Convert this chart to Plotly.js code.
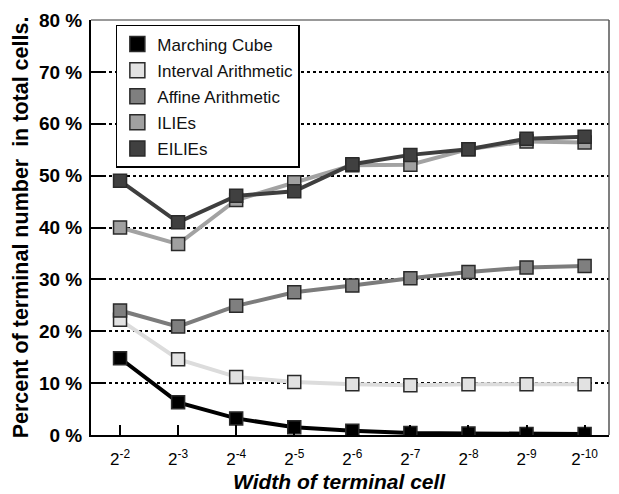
<!DOCTYPE html>
<html><head><meta charset="utf-8">
<script src="https://cdn.plot.ly/plotly-3.0.1.min.js"></script>
<style>body{margin:0;background:#fff}#c{width:619px;height:494px}</style>
</head><body><div id="c"></div>
<script>
const categories = ["2<sup>-2</sup>","2<sup>-3</sup>","2<sup>-4</sup>","2<sup>-5</sup>","2<sup>-6</sup>","2<sup>-7</sup>","2<sup>-8</sup>","2<sup>-9</sup>","2<sup>-10</sup>"];
const marchingCube = [14.8, 6.3, 3.2, 1.5, 0.8, 0.4, 0.3, 0.2, 0.2];
const intervalArith = [22.2, 14.6, 11.2, 10.2, 9.8, 9.6, 9.8, 9.8, 9.8];
const affineArith = [24.0, 20.9, 24.9, 27.5, 28.8, 30.2, 31.4, 32.3, 32.6];
const ilies = [40.0, 36.8, 45.3, 48.7, 52.0, 52.1, 55.1, 56.6, 56.4];
const eilies = [49.0, 41.0, 46.1, 47.0, 52.2, 54.0, 55.1, 57.1, 57.5];
const yTickVals = [0,10,20,30,40,50,60,70,80];
const yTickText = ["0 %","10 %","20 %","30 %","40 %","50 %","60 %","70 %","80 %"];
const xTitle = "Width of terminal cell";
const yTitle = "Percent of terminal number  in total cells.";

const series = [
  {name:"Marching Cube", y:marchingCube, line:"#000000", fill:"#000000"},
  {name:"Interval Arithmetic", y:intervalArith, line:"#dcdcdc", fill:"#e2e2e2"},
  {name:"Affine Arithmetic", y:affineArith, line:"#7c7c7c", fill:"#7f7f7f"},
  {name:"ILIEs", y:ilies, line:"#a2a2a2", fill:"#a0a0a0"},
  {name:"EILIEs", y:eilies, line:"#3e3e3e", fill:"#404040"}
];
const xIdx = categories.map((_, i) => i);
const traces = [];
series.forEach(s => {
  traces.push({x:xIdx, y:s.y, type:"scatter", mode:"lines+markers", showlegend:false,
    line:{color:s.line, width:4},
    marker:{symbol:"square", size:13, color:s.fill, line:{color:"#2a2a2a", width:1.5}}});
});
series.forEach((s, i) => {
  traces.push({x:[null], y:[null], type:"scatter", mode:"markers", name:s.name, showlegend:true,
    legendgroup:"g"+i,
    marker:{symbol:"square", size:15, color:s.fill, line:{color:"#2a2a2a", width:1.5}}});
});

const layout = {
  width:619, height:494,
  margin:{l:91, r:10, t:20, b:59},
  paper_bgcolor:"#fff", plot_bgcolor:"#fff",
  font:{family:"Liberation Sans, Arial, sans-serif", color:"#000"},
  showlegend:true,
  legend:{x:0.048, y:0.988, xanchor:"left", yanchor:"top", bgcolor:"#fff",
    bordercolor:"#000", borderwidth:1.5, font:{size:17, color:"#111"},
    tracegroupgap:1, traceorder:"grouped"},
  xaxis:{range:[-0.5, 8.42], tickvals:xIdx, ticktext:categories, ticks:"inside", ticklen:10, tickwidth:2,
    tickcolor:"#000", showline:true, linecolor:"#000", linewidth:2, showgrid:false, zeroline:false,
    tickfont:{size:17}, ticklabelstandoff:8},
  yaxis:{range:[0,80], tickvals:yTickVals, ticktext:yTickText, ticks:"inside", ticklen:12, tickwidth:2,
    tickcolor:"#000", showline:true, linecolor:"#000", linewidth:2, showgrid:true, gridcolor:"#000",
    gridwidth:2, griddash:"dot", zeroline:false, tickfont:{size:19, weight:"bold"}, ticklabelstandoff:3,
    title:{text:"<b>" + yTitle + "</b>", font:{size:21.5}, standoff:4}},
  annotations:[
    {text:"<b><i>" + xTitle + "</i></b>", xref:"paper", yref:"paper", x:0.479, y:0, yshift:-46,
     xanchor:"center", yanchor:"middle", showarrow:false, font:{size:21}}
  ],
  shapes:[
    {type:"line", xref:"paper", yref:"paper", x0:0, x1:1, y0:1, y1:1, line:{color:"#777", width:1.5}, layer:"above"},
    {type:"line", xref:"paper", yref:"paper", x0:1, x1:1, y0:0, y1:1, line:{color:"#555", width:1.5}, layer:"above"}
  ]
};
Plotly.newPlot("c", traces, layout, {displayModeBar:false, staticPlot:true});
</script></body></html>
